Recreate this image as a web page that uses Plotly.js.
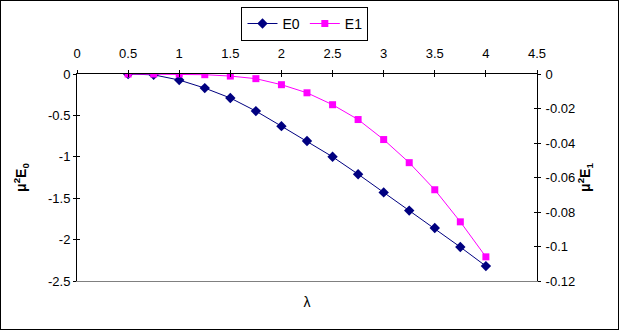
<!DOCTYPE html>
<html>
<head>
<meta charset="utf-8">
<script src="https://cdn.plot.ly/plotly-3.0.1.min.js"></script>
<style>
html,body{margin:0;padding:0;background:#fff;}
#chart{width:617px;height:328px;border:1px solid #000;}
</style>
</head>
<body>
<div id="chart"></div>
<script>
// Data
const lambda = [0.5, 0.75, 1, 1.25, 1.5, 1.75, 2, 2.25, 2.5, 2.75, 3, 3.25, 3.5, 3.75, 4];
const E0 = [0, -0.01, -0.073, -0.17, -0.29, -0.448, -0.63, -0.81, -1.0, -1.21, -1.43, -1.65, -1.86, -2.09, -2.32];
const E1 = [0, 0, 0, -0.0004, -0.0012, -0.0027, -0.0062, -0.0109, -0.0178, -0.0264, -0.038, -0.0514, -0.0671, -0.0857, -0.106];

const xTickVals = [0, 0.5, 1, 1.5, 2, 2.5, 3, 3.5, 4, 4.5];
const xTickText = ['0', '0.5', '1', '1.5', '2', '2.5', '3', '3.5', '4', '4.5'];
const y0TickVals = [0, -0.5, -1, -1.5, -2, -2.5];
const y0TickText = ['0', '-0.5', '-1', '-1.5', '-2', '-2.5'];
const y1TickVals = [0, -0.02, -0.04, -0.06, -0.08, -0.1, -0.12];
const y1TickText = ['0', '-0.02', '-0.04', '-0.06', '-0.08', '-0.1', '-0.12'];

const FONT = 'Liberation Sans, Arial, sans-serif';

const traces = [
  {
    x: lambda, y: E0, name: 'E0', type: 'scatter', mode: 'lines+markers',
    xaxis: 'x', yaxis: 'y',
    line: {color: '#000080', width: 1},
    marker: {symbol: 'diamond', size: 8, color: '#000080'}
  },
  {
    x: lambda, y: E1, name: 'E1', type: 'scatter', mode: 'lines+markers',
    xaxis: 'x', yaxis: 'y2',
    line: {color: '#FF00FF', width: 1},
    marker: {symbol: 'square', size: 7, color: '#FF00FF'}
  },
  // empty helper traces so the helper axes (crossing ticks, bottom frame line) get drawn
  {x: [], y: [], xaxis: 'x2', yaxis: 'y3', type: 'scatter', mode: 'none', showlegend: false, hoverinfo: 'skip'},
  {x: [], y: [], xaxis: 'x3', yaxis: 'y4', type: 'scatter', mode: 'none', showlegend: false, hoverinfo: 'skip'},
  {x: [], y: [], xaxis: 'x4', yaxis: 'y', type: 'scatter', mode: 'none', showlegend: false, hoverinfo: 'skip'}
];

const tickFont = {family: FONT, size: 13, color: '#000'};

const layout = {
  width: 617, height: 328,
  margin: {l: 76, r: 81, t: 73, b: 48, autoexpand: false},
  paper_bgcolor: '#fff', plot_bgcolor: '#fff',
  font: {family: FONT, size: 13, color: '#000'},
  showlegend: true,
  legend: {
    orientation: 'h', xref: 'container', yref: 'container',
    x: 0.4927, xanchor: 'center', y: 0.982, yanchor: 'top',
    bordercolor: '#000', borderwidth: 1, bgcolor: '#fff',
    font: {family: FONT, size: 14, color: '#000'},
    itemwidth: 30, tracegroupgap: 0
  },
  // top axis: labels pushed up by a long transparent tick
  xaxis: {
    side: 'top', anchor: 'y', range: [0, 4.5],
    tickmode: 'array', tickvals: xTickVals, ticktext: xTickText,
    ticks: 'outside', ticklen: 10, tickcolor: 'rgba(0,0,0,0)', tickwidth: 1,
    showline: true, linecolor: '#000', linewidth: 1,
    showgrid: false, zeroline: false, tickfont: tickFont
  },
  // visible crossing ticks of the top axis
  xaxis2: {
    overlaying: 'x', side: 'top', anchor: 'y', range: [0, 4.5],
    tickmode: 'array', tickvals: xTickVals,
    ticks: 'inside', ticklen: 3, tickcolor: '#000', tickwidth: 1,
    showticklabels: false, showline: false, showgrid: false, zeroline: false
  },
  xaxis4: {
    overlaying: 'x', side: 'top', anchor: 'y', range: [0, 4.5],
    tickmode: 'array', tickvals: xTickVals,
    ticks: 'outside', ticklen: 3, tickcolor: '#000', tickwidth: 1,
    showticklabels: false, showline: false, showgrid: false, zeroline: false
  },
  xaxis3: {
    overlaying: 'x', side: 'bottom', anchor: 'y', range: [0, 4.5],
    showticklabels: false, ticks: '', showline: true, linecolor: '#808080', linewidth: 1,
    showgrid: false, zeroline: false,
    title: {text: 'λ', font: {family: FONT, size: 14, color: '#000'}, standoff: 16}
  },
  yaxis: {
    anchor: 'x', range: [-2.5, 0],
    tickmode: 'array', tickvals: y0TickVals, ticktext: y0TickText,
    ticks: 'outside', ticklen: 3, tickcolor: '#000', tickwidth: 1,
    showline: true, linecolor: '#000', linewidth: 1,
    showgrid: false, zeroline: false, tickfont: tickFont,
    title: {text: '<b>μ<sup>2</sup>E<sub>0</sub></b>', font: {family: FONT, size: 14, color: '#000'}, standoff: 18}
  },
  yaxis3: {
    overlaying: 'y', anchor: 'x', range: [-2.5, 0], side: 'left',
    tickmode: 'array', tickvals: y0TickVals,
    ticks: 'inside', ticklen: 3, tickcolor: '#000', tickwidth: 1,
    showticklabels: false, showline: false, showgrid: false, zeroline: false
  },
  yaxis2: {
    overlaying: 'y', side: 'right', anchor: 'x', range: [-0.12, 0],
    tickmode: 'array', tickvals: y1TickVals, ticktext: y1TickText,
    ticks: 'outside', ticklen: 3, tickcolor: '#000', tickwidth: 1,
    showline: true, linecolor: '#000', linewidth: 1,
    showgrid: false, zeroline: false, tickfont: tickFont,
    ticklabelstandoff: 2,
    title: {text: '<b>μ<sup>2</sup>E<sub>1</sub></b>', font: {family: FONT, size: 14, color: '#000'}, standoff: 5}
  },
  yaxis4: {
    overlaying: 'y', side: 'right', anchor: 'x', range: [-0.12, 0],
    tickmode: 'array', tickvals: y1TickVals,
    ticks: 'inside', ticklen: 3, tickcolor: '#000', tickwidth: 1,
    showticklabels: false, showline: false, showgrid: false, zeroline: false
  }
};

Plotly.newPlot('chart', traces, layout, {displayModeBar: false, staticPlot: true});
</script>
</body>
</html>
